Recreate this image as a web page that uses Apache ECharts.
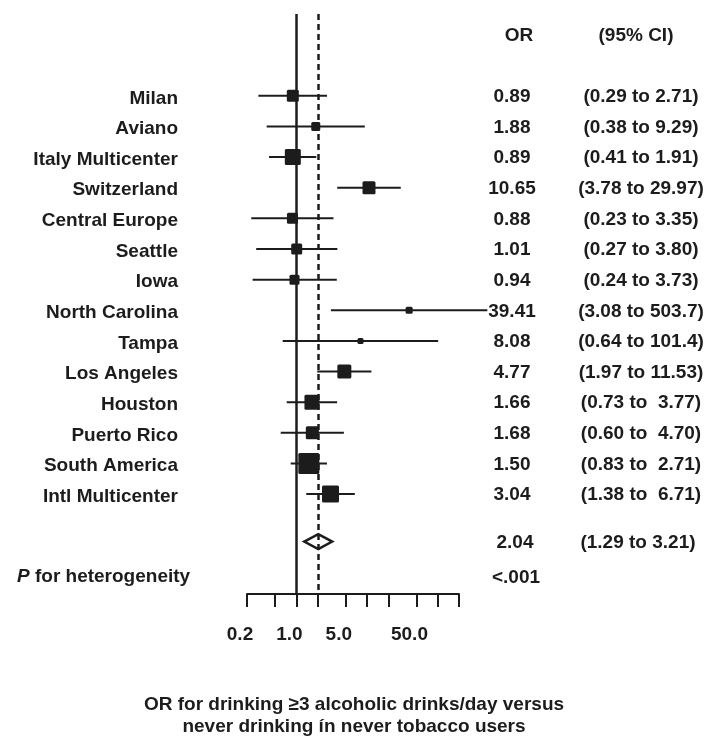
<!DOCTYPE html>
<html>
<head>
<meta charset="utf-8">
<title>Forest plot</title>
<script src="https://cdn.jsdelivr.net/npm/echarts@6/dist/echarts.min.js"></script>
<style>
    html, body { margin: 0; padding: 0; background: #fff; }
    #chart { width: 709px; height: 749px; }
</style>
</head>
<body>
<div id="chart"></div>
<script>
// studies, top to bottom
var studies = ['Milan', 'Aviano', 'Italy Multicenter', 'Switzerland', 'Central Europe', 'Seattle', 'Iowa',
    'North Carolina', 'Tampa', 'Los Angeles', 'Houston', 'Puerto Rico', 'South America', 'Intl Multicenter']
var orValues = [0.89, 1.88, 0.89, 10.65, 0.88, 1.01, 0.94, 39.41, 8.08, 4.77, 1.66, 1.68, 1.50, 3.04]
var ciLow = [0.29, 0.38, 0.41, 3.78, 0.23, 0.27, 0.24, 3.08, 0.64, 1.97, 0.73, 0.60, 0.83, 1.38]
var ciHigh = [2.71, 9.29, 1.91, 29.97, 3.35, 3.80, 3.73, 503.7, 101.4, 11.53, 3.77, 4.70, 2.71, 6.71]
var ciLabels = ['(0.29 to 2.71)', '(0.38 to 9.29)', '(0.41 to 1.91)', '(3.78 to 29.97)', '(0.23 to 3.35)',
    '(0.27 to 3.80)', '(0.24 to 3.73)', '(3.08 to 503.7)', '(0.64 to 101.4)', '(1.97 to 11.53)',
    '(0.73 to  3.77)', '(0.60 to  4.70)', '(0.83 to  2.71)', '(1.38 to  6.71)']
// study weight (box size)
var weights = [12, 9, 16, 13, 11, 11, 10, 7, 6, 14, 15, 13, 21, 17]

// pooled estimate
var pooledOR = 2.04
var pooledLow = 1.29
var pooledHigh = 3.21
var pooledLabel = '(1.29 to 3.21)'
var pHet = '<.001'

// axis
var tickValues = [0.2, 0.5, 1, 2, 5, 10, 20, 50, 100, 200]
var labelValues = [0.2, 1, 5, 50]

var ink = '#1c1c1c'
var fontFamily = '"Liberation Sans", Arial, Helvetica, sans-serif'
var lg = function (v) { return Math.log10(v) }

// row positions on the (hidden) y axis
var POOLED_ROW = 15.55
var PHET_ROW = 16.7
var HEADER_ROW = -0.98

function txt(x, y, text, align) {
    return {
        type: 'text',
        x: x,
        y: y,
        style: {
            text: text,
            align: align,
            verticalAlign: 'middle',
            fontFamily: fontFamily,
            fontSize: 19,
            fontWeight: 'bold',
            fill: ink
        }
    }
}

var chart = echarts.init(document.getElementById('chart'))

chart.setOption({
    backgroundColor: '#fff',
    animation: false,
    grid: {
        left: 247,
        right: 250,
        top: 14,
        bottom: 155
    },
    xAxis: {
        type: 'value',
        min: lg(0.2),
        max: lg(200),
        splitLine: { show: false },
        axisLine: {
            onZero: false,
            lineStyle: { color: ink, width: 2 }
        },
        axisTick: {
            inside: false,
            length: 13,
            lineStyle: { color: ink, width: 2 },
            customValues: tickValues.map(lg)
        },
        axisLabel: {
            customValues: labelValues.map(lg),
            margin: 31,
            padding: [0, 14, 0, 0],
            color: ink,
            fontFamily: fontFamily,
            fontSize: 19,
            fontWeight: 'bold',
            formatter: function (v) {
                return Math.pow(10, v).toFixed(1)
            }
        }
    },
    yAxis: {
        type: 'value',
        show: false,
        inverse: true,
        min: -1.67,
        max: 17.26
    },
    series: [
        {
            name: 'studies',
            type: 'custom',
            z: 10,
            data: studies.map(function (n, i) {
                return [lg(ciLow[i]), lg(ciHigh[i]), lg(orValues[i]), i + 1, weights[i]]
            }),
            encode: { x: [0, 1, 2], y: 3 },
            renderItem: function (params, api) {
                var y = api.value(3)
                var a = api.coord([api.value(0), y])
                var b = api.coord([api.value(1), y])
                var c = api.coord([api.value(2), y])
                var s = api.value(4)
                return {
                    type: 'group',
                    children: [
                        {
                            type: 'line',
                            shape: { x1: a[0], y1: a[1], x2: b[0], y2: b[1] },
                            style: { stroke: ink, lineWidth: 2 }
                        },
                        {
                            type: 'rect',
                            shape: { x: c[0] - s / 2, y: c[1] - s / 2, width: s, height: s, r: 1.5 },
                            style: { fill: ink }
                        }
                    ]
                }
            },
            markLine: {
                z: 1,
                silent: true,
                symbol: 'none',
                label: { show: false },
                data: [
                    { xAxis: 0, lineStyle: { color: ink, width: 2.5, type: 'solid' } },
                    { xAxis: lg(pooledOR), lineStyle: { color: ink, width: 2.5, type: [6, 4] } }
                ]
            }
        },
        {
            name: 'pooled',
            type: 'custom',
            z: 10,
            data: [[lg(pooledLow), lg(pooledHigh), lg(pooledOR), POOLED_ROW]],
            encode: { x: [0, 1, 2], y: 3 },
            renderItem: function (params, api) {
                var y = api.value(3)
                var a = api.coord([api.value(0), y])
                var b = api.coord([api.value(1), y])
                var c = api.coord([api.value(2), y])
                return {
                    type: 'polygon',
                    shape: { points: [[a[0], a[1]], [c[0], c[1] - 7.5], [b[0], b[1]], [c[0], c[1] + 7.5]] },
                    style: { fill: 'none', stroke: ink, lineWidth: 2.5 }
                }
            }
        },
        {
            // text columns for each study
            name: 'labels',
            type: 'custom',
            silent: true,
            data: studies.map(function (n, i) { return [0, i + 1, i] }),
            encode: { x: 0, y: 1 },
            renderItem: function (params, api) {
                var i = api.value(2)
                var y = api.coord([0, api.value(1)])[1]
                return {
                    type: 'group',
                    children: [
                        txt(178, y + 2.5, studies[i], 'right'),
                        txt(512, y + 1, orValues[i].toFixed(2), 'center'),
                        txt(641, y + 1, ciLabels[i], 'center')
                    ]
                }
            }
        },
        {
            // header, pooled row and heterogeneity row
            name: 'extra',
            type: 'custom',
            silent: true,
            data: [[0, HEADER_ROW]],
            encode: { x: 0, y: 1 },
            renderItem: function (params, api) {
                var yh = api.coord([0, HEADER_ROW])[1]
                var yp = api.coord([0, POOLED_ROW])[1]
                var yq = api.coord([0, PHET_ROW])[1]
                var het = txt(17, yq, '{i|P} for heterogeneity', 'left')
                het.style.rich = {
                    i: { fontStyle: 'italic', fontWeight: 'bold', fontSize: 19, fontFamily: fontFamily, fill: ink }
                }
                return {
                    type: 'group',
                    children: [
                        txt(519, yh + 1, 'OR', 'center'),
                        txt(636, yh + 1, '(95% CI)', 'center'),
                        txt(515, yp + 1, pooledOR.toFixed(2), 'center'),
                        txt(638, yp + 1, pooledLabel, 'center'),
                        het,
                        txt(516, yq + 1, pHet, 'center')
                    ]
                }
            }
        }
    ],
    graphic: [
        {
            type: 'text',
            x: 354,
            y: 694,
            style: {
                text: 'OR for drinking \u22653 alcoholic drinks/day versus\nnever drinking \u00edn never tobacco users',
                align: 'center',
                verticalAlign: 'top',
                lineHeight: 22,
                fontFamily: fontFamily,
                fontSize: 19,
                fontWeight: 'bold',
                fill: ink
            }
        }
    ]
})
</script>
</body>
</html>
